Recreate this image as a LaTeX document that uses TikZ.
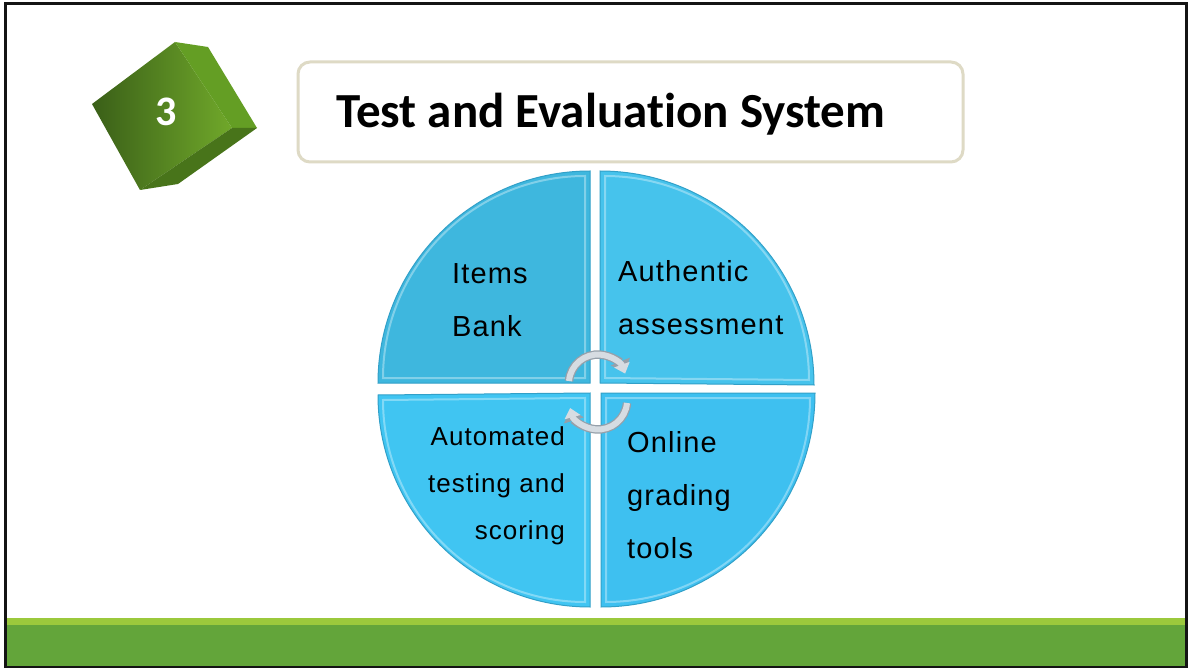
\documentclass[tikz,border=0pt]{standalone}
\usepackage{fontspec}
\setmainfont{Liberation Sans}
\newfontfamily\titlefont[Ligatures=NoCommon]{Carlito}
\newfontfamily\quadfont[LetterSpace=4]{Liberation Sans}
\usetikzlibrary{arrows.meta}
\definecolor{frameblack}{RGB}{20,20,20}
\definecolor{bandlight}{RGB}{155,201,60}
\definecolor{banddark}{RGB}{99,165,58}
\definecolor{titleedge}{RGB}{222,218,197}
\definecolor{quadA}{RGB}{62,183,222}
\definecolor{quadB}{RGB}{70,195,236}
\definecolor{quadC}{RGB}{64,197,242}
\definecolor{quadD}{RGB}{62,192,240}
\definecolor{quadedge}{RGB}{50,160,200}
\definecolor{arrowgray}{RGB}{214,220,226}
\definecolor{arrowedge}{RGB}{150,160,170}
\definecolor{cubedark}{RGB}{58,95,24}
\definecolor{cubelight}{RGB}{112,168,42}
\definecolor{cubeside}{RGB}{100,158,36}
\definecolor{cubebottom}{RGB}{72,116,26}
\tikzset{
  quarter/.style={draw=quadedge,line width=1pt},
  bevel/.style={draw=white,opacity=0.35,line width=2pt},
  quadtext/.style={font=\quadfont\fontsize{29}{53}\selectfont,inner sep=0pt,align=left},
  arrowback/.style={arrowedge,line width=8.5pt,-{Triangle[width=20pt,length=12pt]}},
  cyclearrow/.style={arrowgray,line width=6pt,-{Triangle[width=16pt,length=9.5pt]}}
}
\begin{document}
\begin{tikzpicture}[x=1pt,y=-1pt]
  \useasboundingbox (0,0) rectangle (1189,668);
  \fill[white] (0,0) rectangle (1189,668);
  % bottom band
  \fill[bandlight] (6,618) rectangle (1185,625);
  \fill[banddark] (6,625) rectangle (1185,666);
  \draw[frameblack,line width=3pt] (5,667) -- (5,4) -- (1186,4) -- (1186,667) -- cycle;
  % cube
  \shade[left color=cubedark,right color=cubelight] (92,104) -- (175,42) -- (232,128) -- (140,190) -- cycle;
  \fill[cubeside] (175,42) -- (208,47) -- (257,128) -- (232,128) -- cycle;
  \fill[cubebottom] (140,190) -- (232,128) -- (257,128) -- (178,184) -- cycle;
  \node[text=white,font=\titlefont\bfseries\fontsize{42}{46}\selectfont] (num) at (166,112) {3};
  % title
  \draw[titleedge,line width=3pt,fill=white,rounded corners=12pt] (298,62) rectangle (963,162);
  \node[anchor=base west,inner sep=0pt,font=\titlefont\bfseries\fontsize{49}{54}\selectfont] (title) at (336,128) {Test and Evaluation System};
  % four quarters
  \fill[quadA] (590,383) -- ++(-212,0) arc[start angle=180,end angle=270,radius=212] -- cycle;
  \draw[quarter] (590,383) -- ++(-212,0) arc[start angle=180,end angle=270,radius=212] -- cycle;
  \draw[bevel] (585,378) -- ++(-202,0) arc[start angle=180,end angle=270,radius=202] -- cycle;
  \fill[quadB] (600,383) -- ++(0,-212) arc[start angle=270,end angle=360,radius=214] -- cycle;
  \draw[quarter] (600,383) -- ++(0,-212) arc[start angle=270,end angle=360,radius=214] -- cycle;
  \draw[bevel] (605,378) -- ++(0,-202) arc[start angle=270,end angle=360,radius=204] -- cycle;
  \fill[quadD] (601,393) -- ++(214,0) arc[start angle=0,end angle=90,radius=214] -- cycle;
  \draw[quarter] (601,393) -- ++(214,0) arc[start angle=0,end angle=90,radius=214] -- cycle;
  \draw[bevel] (606,398) -- ++(204,0) arc[start angle=0,end angle=90,radius=204] -- cycle;
  \fill[quadC] (590,393) -- ++(0,214) arc[start angle=90,end angle=180,radius=212] -- cycle;
  \draw[quarter] (590,393) -- ++(0,214) arc[start angle=90,end angle=180,radius=212] -- cycle;
  \draw[bevel] (585,398) -- ++(0,204) arc[start angle=90,end angle=180,radius=202] -- cycle;
  % labels
  \node[quadtext,anchor=west] (bank) at (452,300) {Items\\Bank};
  \node[quadtext,anchor=west] (authentic) at (618,298) {Authentic\\assessment};
  \node[quadtext,anchor=east,align=right,font=\quadfont\fontsize{26}{47}\selectfont] (automated) at (565,486) {Automated\\testing and\\scoring};
  \node[quadtext,anchor=west] (grading) at (627,495) {Online\\grading\\tools};
  % cycle arrows
  \draw[arrowback] (569,381) arc[start angle=185,end angle=338,radius=29];
  \draw[cyclearrow] (569,381) arc[start angle=185,end angle=340,radius=29];
  \draw[arrowback] (627,403) arc[start angle=5,end angle=163,radius=29];
  \draw[cyclearrow] (627,403) arc[start angle=5,end angle=165,radius=29];
\end{tikzpicture}
\end{document}
